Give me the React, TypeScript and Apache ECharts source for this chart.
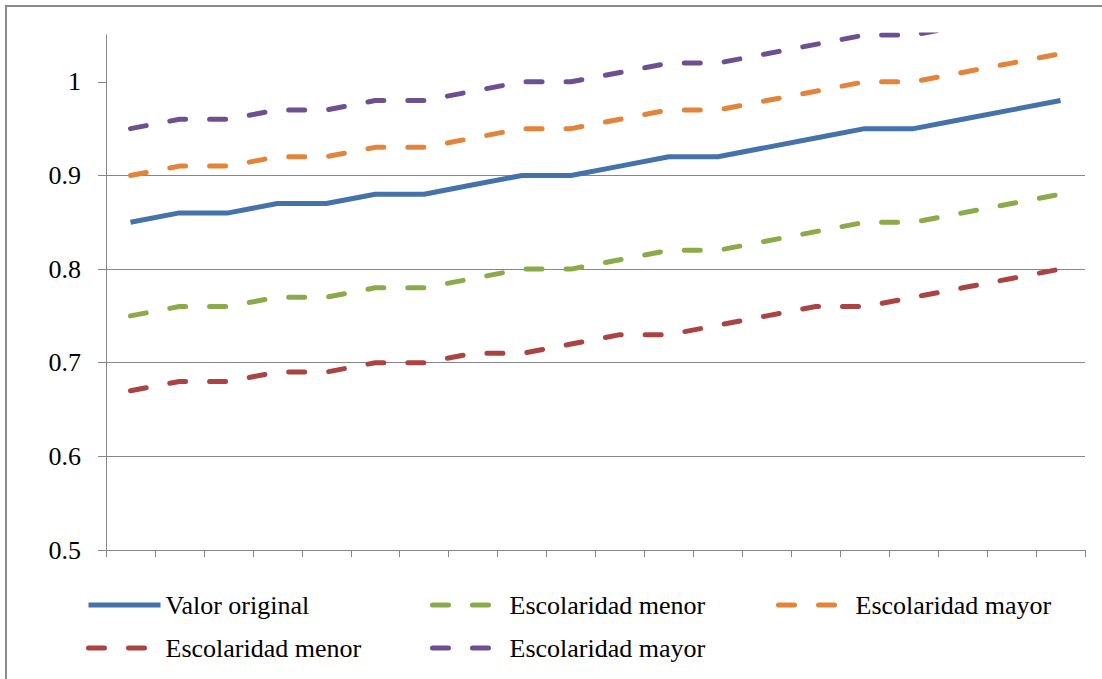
import React, { useEffect, useRef } from "react";
import * as echarts from "echarts";

const categories = ["1","2","3","4","5","6","7","8","9","10","11","12","13","14","15","16","17","18","19","20"];

const valorOriginal = [0.85, 0.86, 0.86, 0.87, 0.87, 0.88, 0.88, 0.89, 0.90, 0.90, 0.91, 0.92, 0.92, 0.93, 0.94, 0.95, 0.95, 0.96, 0.97, 0.98];
const escolaridadMenorA = [0.75, 0.76, 0.76, 0.77, 0.77, 0.78, 0.78, 0.79, 0.80, 0.80, 0.81, 0.82, 0.82, 0.83, 0.84, 0.85, 0.85, 0.86, 0.87, 0.88];
const escolaridadMayorA = [0.90, 0.91, 0.91, 0.92, 0.92, 0.93, 0.93, 0.94, 0.95, 0.95, 0.96, 0.97, 0.97, 0.98, 0.99, 1.00, 1.00, 1.01, 1.02, 1.03];
const escolaridadMenorB = [0.67, 0.68, 0.68, 0.69, 0.69, 0.70, 0.70, 0.71, 0.71, 0.72, 0.73, 0.73, 0.74, 0.75, 0.76, 0.76, 0.77, 0.78, 0.79, 0.80];
const escolaridadMayorB = [0.95, 0.96, 0.96, 0.97, 0.97, 0.98, 0.98, 0.99, 1.00, 1.00, 1.01, 1.02, 1.02, 1.03, 1.04, 1.05, 1.05, 1.06, 1.07, 1.08];

const yTicks = [0.5, 0.6, 0.7, 0.8, 0.9, 1.0];

// internal series keys -> displayed legend text
const seriesKeys = ["s1", "s2", "s3", "s4", "s5"];
const seriesLabels = ["Valor original", "Escolaridad menor", "Escolaridad mayor", "Escolaridad menor", "Escolaridad mayor"];
const seriesData = [valorOriginal, escolaridadMenorA, escolaridadMayorA, escolaridadMenorB, escolaridadMayorB];
const seriesColors = ["#4572AA", "#8CAA4A", "#E2853B", "#AA4442", "#6C5192"];
const seriesDashed = [false, true, true, true, true];

const FONT = "Times New Roman";

export default function App() {
  const ref = useRef<HTMLDivElement>(null);

  useEffect(() => {
    if (!ref.current) return;
    const chart = echarts.init(ref.current, null, { renderer: "svg" });

    const legendPos = [
      { left: 86, top: 590 },
      { left: 430, top: 590 },
      { left: 776, top: 590 },
      { left: 86, top: 633 },
      { left: 430, top: 633 },
    ];

    const option: any = {
      animation: false,
      backgroundColor: "#ffffff",
      textStyle: { fontFamily: FONT },
      grid: { left: 106, right: 17, top: 35, bottom: 129, containLabel: false },
      graphic: [
        {
          type: "rect",
          silent: true,
          z: -10,
          shape: { x: 6, y: 6, width: 1200, height: 800 },
          style: { fill: "none", stroke: "#8a8a8a", lineWidth: 2 },
        },
      ],
      legend: seriesKeys.map((k, i) => ({
        data: [k],
        left: legendPos[i].left,
        top: legendPos[i].top,
        padding: 0,
        itemWidth: 72,
        itemHeight: 30,
        selectedMode: false,
        formatter: () => seriesLabels[i],
        textStyle: { fontFamily: FONT, fontSize: 26, color: "#000", lineHeight: 30 },
        itemStyle: { opacity: 0 },
        lineStyle: { width: 5 },
      })),
      xAxis: {
        type: "category",
        data: categories,
        boundaryGap: true,
        axisLine: { show: true, lineStyle: { color: "#868686", width: 1 } },
        axisTick: { show: true, length: 7, alignWithLabel: false, lineStyle: { color: "#868686" } },
        axisLabel: { show: false },
        splitLine: { show: false },
      },
      yAxis: {
        type: "value",
        min: 0.5,
        max: 1.05,
        interval: 0.1,
        axisLine: { show: true, lineStyle: { color: "#868686", width: 1 } },
        axisTick: { show: true, length: 8, inside: false, customValues: yTicks, lineStyle: { color: "#868686" } },
        axisLabel: {
          show: true,
          customValues: yTicks,
          margin: 25,
          fontFamily: FONT,
          fontSize: 26,
          color: "#000",
          formatter: (v: number) => (v > 1.001 ? "" : String(Math.round(v * 10) / 10)),
        },
        splitLine: { show: true, showMaxLine: false, lineStyle: { color: "#868686", width: 1 } },
      },
      series: seriesKeys.map((k, i) => ({
        name: k,
        type: "line",
        data: seriesData[i],
        symbol: "none",
        clip: true,
        color: seriesColors[i],
        lineStyle: {
          color: seriesColors[i],
          width: 5,
          type: seriesDashed[i] ? [16, 24] : "solid",
          cap: seriesDashed[i] ? "round" : "butt",
          join: "round",
        },
      })),
    };

    chart.setOption(option);
    return () => chart.dispose();
  }, []);

  return (
    <div
      ref={ref}
      style={{ position: "absolute", left: 0, top: 0, width: 1102, height: 679 }}
    />
  );
}
